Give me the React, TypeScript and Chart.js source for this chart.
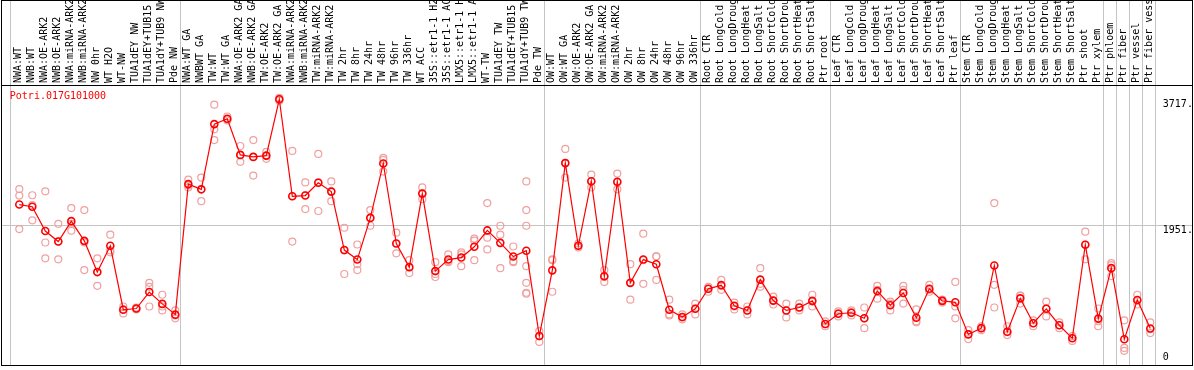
import React, { useEffect, useRef } from "react";
import { Chart, registerables } from "chart.js";

Chart.register(...registerables);

const GENE_ID = "Potri.017G101000";

const CATEGORIES = [
  "NWA:WT", "NWB:WT", "NWA:OE-ARK2", "NWB:OE-ARK2", "NWA:miRNA-ARK2", "NWB:miRNA-ARK2", "NW 0hr", "WT H2O", "WT-NW", "TUA1dEY NW", "TUA1dEY+TUB15 NW", "TUA1dY+TUB9 NW", "Pde NW",
  "NWA:WT GA", "NWBWT GA", "TW:WT", "TW:WT GA", "NWA:OE-ARK2 GA", "NWB:OE-ARK2 GA", "TW:OE-ARK2", "TW:OE-ARK2 GA", "NWA:miRNA-ARK2", "NWB:miRNA-ARK2", "TW:miRNA-ARK2", "TW:miRNA-ARK2", "TW 2hr", "TW 8hr", "TW 24hr", "TW 48hr", "TW 96hr", "TW 336hr", "WT ACC", "35S::etr1-1 H2O", "35S::etr1-1 ACC", "LMX5::etr1-1 H2O", "LMX5::etr1-1 ACC", "WT-TW", "TUA1dEY TW", "TUA1dEY+TUB15 TW", "TUA1dY+TUB9 TW", "Pde TW",
  "OW:WT", "OW:WT GA", "OW:OE-ARK2", "OW:OE-ARK2 GA", "OW:miRNA-ARK2", "OW:miRNA-ARK2", "OW 2hr", "OW 8hr", "OW 24hr", "OW 48hr", "OW 96hr", "OW 336hr",
  "Root CTR", "Root LongCold", "Root LongDrought", "Root LongHeat", "Root LongSalt", "Root ShortCold", "Root ShortDrought", "Root ShortHeat", "Root ShortSalt", "Ptr root",
  "Leaf CTR", "Leaf LongCold", "Leaf LongDrought", "Leaf LongHeat", "Leaf LongSalt", "Leaf ShortCold", "Leaf ShortDrought", "Leaf ShortHeat", "Leaf ShortSalt", "Ptr leaf",
  "Stem CTR", "Stem LongCold", "Stem LongDrought", "Stem LongHeat", "Stem LongSalt", "Stem ShortCold", "Stem ShortDrought", "Stem ShortHeat", "Stem ShortSalt", "Ptr shoot", "Ptr xylem",
  "Ptr phloem", "Ptr fiber", "Ptr vessel", "Ptr fiber vessel",
];

const MEANS = [
  2244, 2213, 1874, 1726, 2012, 1736, 1299, 1667, 772, 789, 1020, 854, 703,
  2530, 2457, 3370, 3445, 2939, 2911, 2929, 3717, 2360, 2370, 2549, 2425, 1607, 1474, 2057, 2819, 1699, 1368, 2397, 1313, 1474, 1502, 1653, 1882, 1708, 1516, 1598, 404,
  1323, 2824, 1667, 2571, 1240, 2563, 1148, 1474, 1409, 772, 670, 785,
  1065, 1116, 827, 762, 1193, 900, 762, 803, 896, 573,
  716, 730, 652, 1033, 835, 1006, 661, 1065, 896, 876,
  427, 514, 1392, 463, 931, 583, 785, 555, 372, 1681, 648,
  1354, 358, 909, 510,
];

const REP_A = [
  2461, 2374, 2429, 1974, 2195, 2167, 1492, 1823, 817, 803, 1148, 982, 762,
  2594, 2622, 3641, 3476, 3063, 3146, 2980, 3738, 2994, 2553, 2953, 2567, 1919, 1685, 2167, 2898, 1850, 1465, 2484, 1437, 1547, 1575, 1768, 2264, 1947, 1657, 2567, 473,
  1478, 3022, 1699, 2663, 1327, 2677, 1409, 1837, 1520, 913, 707, 858,
  1093, 1189, 872, 817, 1354, 955, 858, 858, 982, 610,
  748, 762, 803, 1106, 886, 1106, 776, 1120, 913, 1161,
  486, 541, 2264, 541, 969, 624, 886, 596, 404, 1864, 789,
  1423, 624, 982, 596,
];

const REP_B = [
  2370, 2236, 1713, 1726, 1974, 1713, 1299, 1602, 776, 789, 1093, 817, 693,
  2512, 2457, 3297, 3435, 2939, 2911, 2925, 3724, 2360, 2374, 2553, 2429, 1602, 1409, 2057, 2870, 1699, 1368, 2402, 1272, 1451, 1547, 1740, 1781, 1823, 1451, 2167, 404,
  1465, 2829, 1671, 2567, 1230, 2553, 1148, 1465, 1520, 707, 665, 789,
  1065, 1106, 817, 762, 1134, 900, 762, 803, 886, 569,
  720, 734, 652, 1051, 858, 1051, 610, 1051, 900, 817,
  431, 514, 1120, 459, 969, 583, 789, 555, 376, 1685, 610,
  1396, 238, 900, 500,
];

const REP_C = [
  1901, 2023, 1492, 1478, 1878, 1327, 1106, 1575, 721, 776, 817, 762, 652,
  2484, 2291, 3146, 3421, 2842, 2650, 2884, 3697, 1726, 2181, 2154, 2291, 1272, 1327, 1947, 2705, 1561, 1285, 2319, 1230, 1437, 1382, 1465, 1616, 1354, 1437, 1947, 321,
  1024, 2622, 1644, 2484, 1161, 2457, 913, 1134, 1189, 693, 638, 707,
  1024, 1051, 776, 707, 1093, 845, 665, 762, 817, 541,
  679, 693, 514, 927, 762, 858, 596, 1024, 872, 652,
  362, 486, 803, 417, 858, 541, 679, 514, 335, 1478, 541,
  1244, 197, 845, 445,
];

// additional replicates beyond three (category index, value)
const EXTRA_INDEX = [39, 39, 39, 39];
const EXTRA_VALUE = [1382, 1148, 1010, 996];

// last category index of each group (separator drawn after it)
const GROUP_ENDS = [12, 40, 52, 62, 72, 83, 84, 85, 86, 87];

const Y_MAX = 3917;
const Y_TICKS = [3717, 1951, 0];
const Y_TICK_LABELS = ["3717.", "1951.", "0"];
const GRID_VALUES = [1951];

const MONO = "'DejaVu Sans Mono', 'Liberation Mono', monospace";

const decorPlugin = {
  id: "decor",
  beforeDatasetsDraw(chart: any) {
    const { ctx, chartArea: a, scales } = chart;
    const x = scales.x;
    const y = scales.y;
    ctx.save();
    ctx.strokeStyle = "#c4c4c4";
    ctx.lineWidth = 1;
    ctx.beginPath();
    const seps = [-0.72, ...GROUP_ENDS.map((i) => i + 0.385)];
    for (const v of seps) {
      const px = Math.round(x.getPixelForValue(v)) + 0.5;
      ctx.moveTo(px, 0);
      ctx.lineTo(px, a.bottom);
    }
    for (const v of GRID_VALUES) {
      const py = Math.round(y.getPixelForValue(v)) + 0.5;
      ctx.moveTo(1, py);
      ctx.lineTo(chart.width - 2, py);
    }
    ctx.stroke();
    ctx.restore();
  },
  afterDraw(chart: any) {
    const { ctx, chartArea: a, scales } = chart;
    const y = scales.y;
    ctx.save();
    ctx.strokeStyle = "#000";
    ctx.lineWidth = 1;
    ctx.strokeRect(1.5, 0.5, chart.width - 3, Math.round(a.bottom));
    ctx.beginPath();
    ctx.moveTo(1, Math.round(a.top) + 0.5);
    ctx.lineTo(chart.width - 1, Math.round(a.top) + 0.5);
    ctx.stroke();

    ctx.font = `10px ${MONO}`;
    ctx.fillStyle = "#000";
    ctx.textAlign = "left";
    Y_TICKS.forEach((v, k) => {
      const py = y.getPixelForValue(v);
      if (v === 0) {
        ctx.textBaseline = "bottom";
        ctx.fillText(Y_TICK_LABELS[k], a.right + 6, py - 2);
      } else {
        ctx.textBaseline = "top";
        ctx.fillText(Y_TICK_LABELS[k], a.right + 6, py);
      }
    });

    ctx.fillStyle = "#ff0000";
    ctx.textBaseline = "top";
    ctx.fillText(GENE_ID, a.left - 3, a.top + 6);
    ctx.restore();
  },
};

function buildRepDataset(data: (number | null)[]) {
  return {
    type: "line" as const,
    data,
    showLine: false,
    pointRadius: 3.5,
    pointHoverRadius: 3.5,
    pointBorderWidth: 1.2,
    pointBorderColor: "#f0a0a0",
    pointBackgroundColor: "rgba(0,0,0,0)",
    borderColor: "#f0a0a0",
    order: 1,
  };
}

export default function App() {
  const ref = useRef<HTMLCanvasElement | null>(null);

  useEffect(() => {
    document.body.style.margin = "0";
    const canvas = ref.current;
    if (!canvas) return;

    const extras = EXTRA_INDEX.map((idx, k) =>
      buildRepDataset(CATEGORIES.map((_, i) => (i === idx ? EXTRA_VALUE[k] : null)))
    );

    const chart = new Chart(canvas, {
      type: "line",
      data: {
        labels: CATEGORIES,
        datasets: [
          {
            type: "line",
            data: MEANS,
            borderColor: "#ff0000",
            borderWidth: 1.2,
            pointRadius: 3.5,
            pointHoverRadius: 3.5,
            pointBorderWidth: 1.6,
            pointBorderColor: "#ff0000",
            pointBackgroundColor: "rgba(0,0,0,0)",
            tension: 0,
            order: 0,
          },
          buildRepDataset(REP_A),
          buildRepDataset(REP_B),
          buildRepDataset(REP_C),
          ...extras,
        ] as any,
      },
      options: {
        responsive: false,
        animation: false,
        devicePixelRatio: 1,
        layout: { padding: { left: 12.8, right: 37.2, top: 0, bottom: 1 } },
        plugins: { legend: { display: false }, tooltip: { enabled: false } },
        scales: {
          x: {
            type: "category",
            position: "top",
            offset: true,
            grid: { display: false, drawTicks: false },
            border: { display: false },
            ticks: {
              autoSkip: false,
              minRotation: 90,
              maxRotation: 90,
              padding: 2,
              labelOffset: 11,
              color: "#000",
              font: { family: MONO, size: 10 },
            },
            afterFit: (s: any) => {
              s.height = 85;
            },
          },
          y: { display: false, min: 0, max: Y_MAX },
        },
      },
      plugins: [decorPlugin],
    });

    return () => chart.destroy();
  }, []);

  return <canvas ref={ref} width={1194} height={370} style={{ display: "block" }} />;
}
